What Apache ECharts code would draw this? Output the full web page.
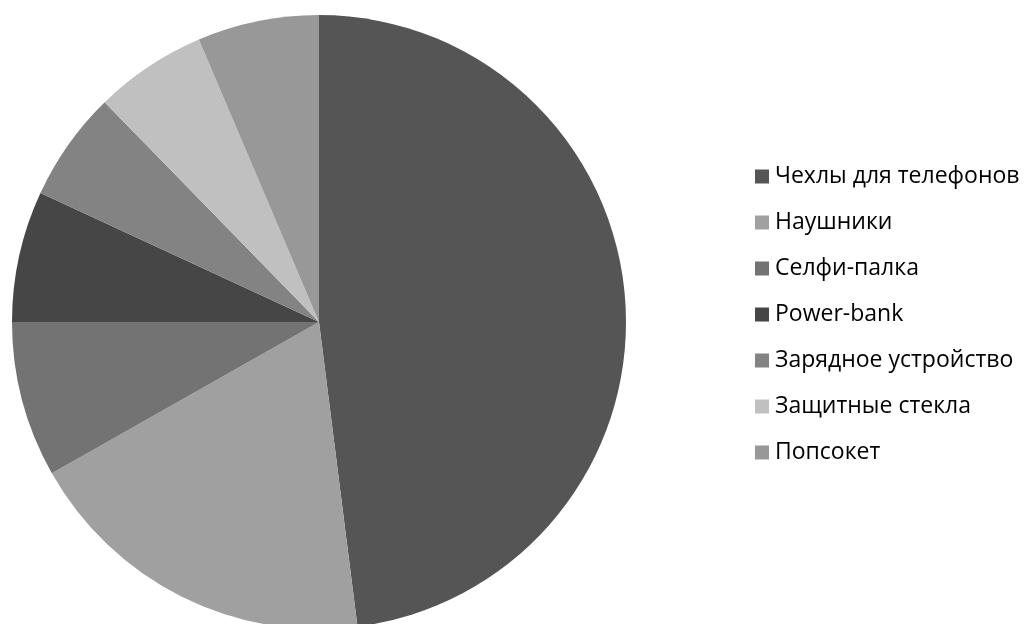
<!DOCTYPE html>
<html><head><meta charset="utf-8">
<script src="https://cdn.jsdelivr.net/npm/echarts@6/dist/echarts.min.js"></script>
<style>html,body{margin:0;padding:0;background:#fff}#c{width:1026px;height:624px}</style>
</head><body><div id="c"></div>
<script>
const categories = ['Чехлы для телефонов','Наушники','Селфи-палка','Power-bank','Зарядное устройство','Защитные стекла','Попсокет'];
const values = [48.0, 18.8, 8.2, 6.9, 5.8, 5.9, 6.4];
const colors = ['#555555','#a0a0a0','#737373','#464646','#838383','#c0c0c0','#989898'];
const chart = echarts.init(document.getElementById('c'));
chart.setOption({
  animation:false,
  color: colors,
  legend:{
    orient:'vertical', left:750, top:160, itemWidth:14, itemHeight:14, itemGap:23,
    icon:'rect',
    textStyle:{fontFamily:'Open Sans', fontSize:23, lineHeight:23, color:'#000', padding:[0,0,0,1]},
    data: categories
  },
  series:[{
    type:'pie', center:[319,322], radius:307, startAngle:90, clockwise:true,
    label:{show:false}, labelLine:{show:false}, emphasis:{disabled:true},
    itemStyle:{borderWidth:0},
    data: categories.map((n,i)=>({name:n, value:values[i]}))
  }]
});
</script></body></html>
